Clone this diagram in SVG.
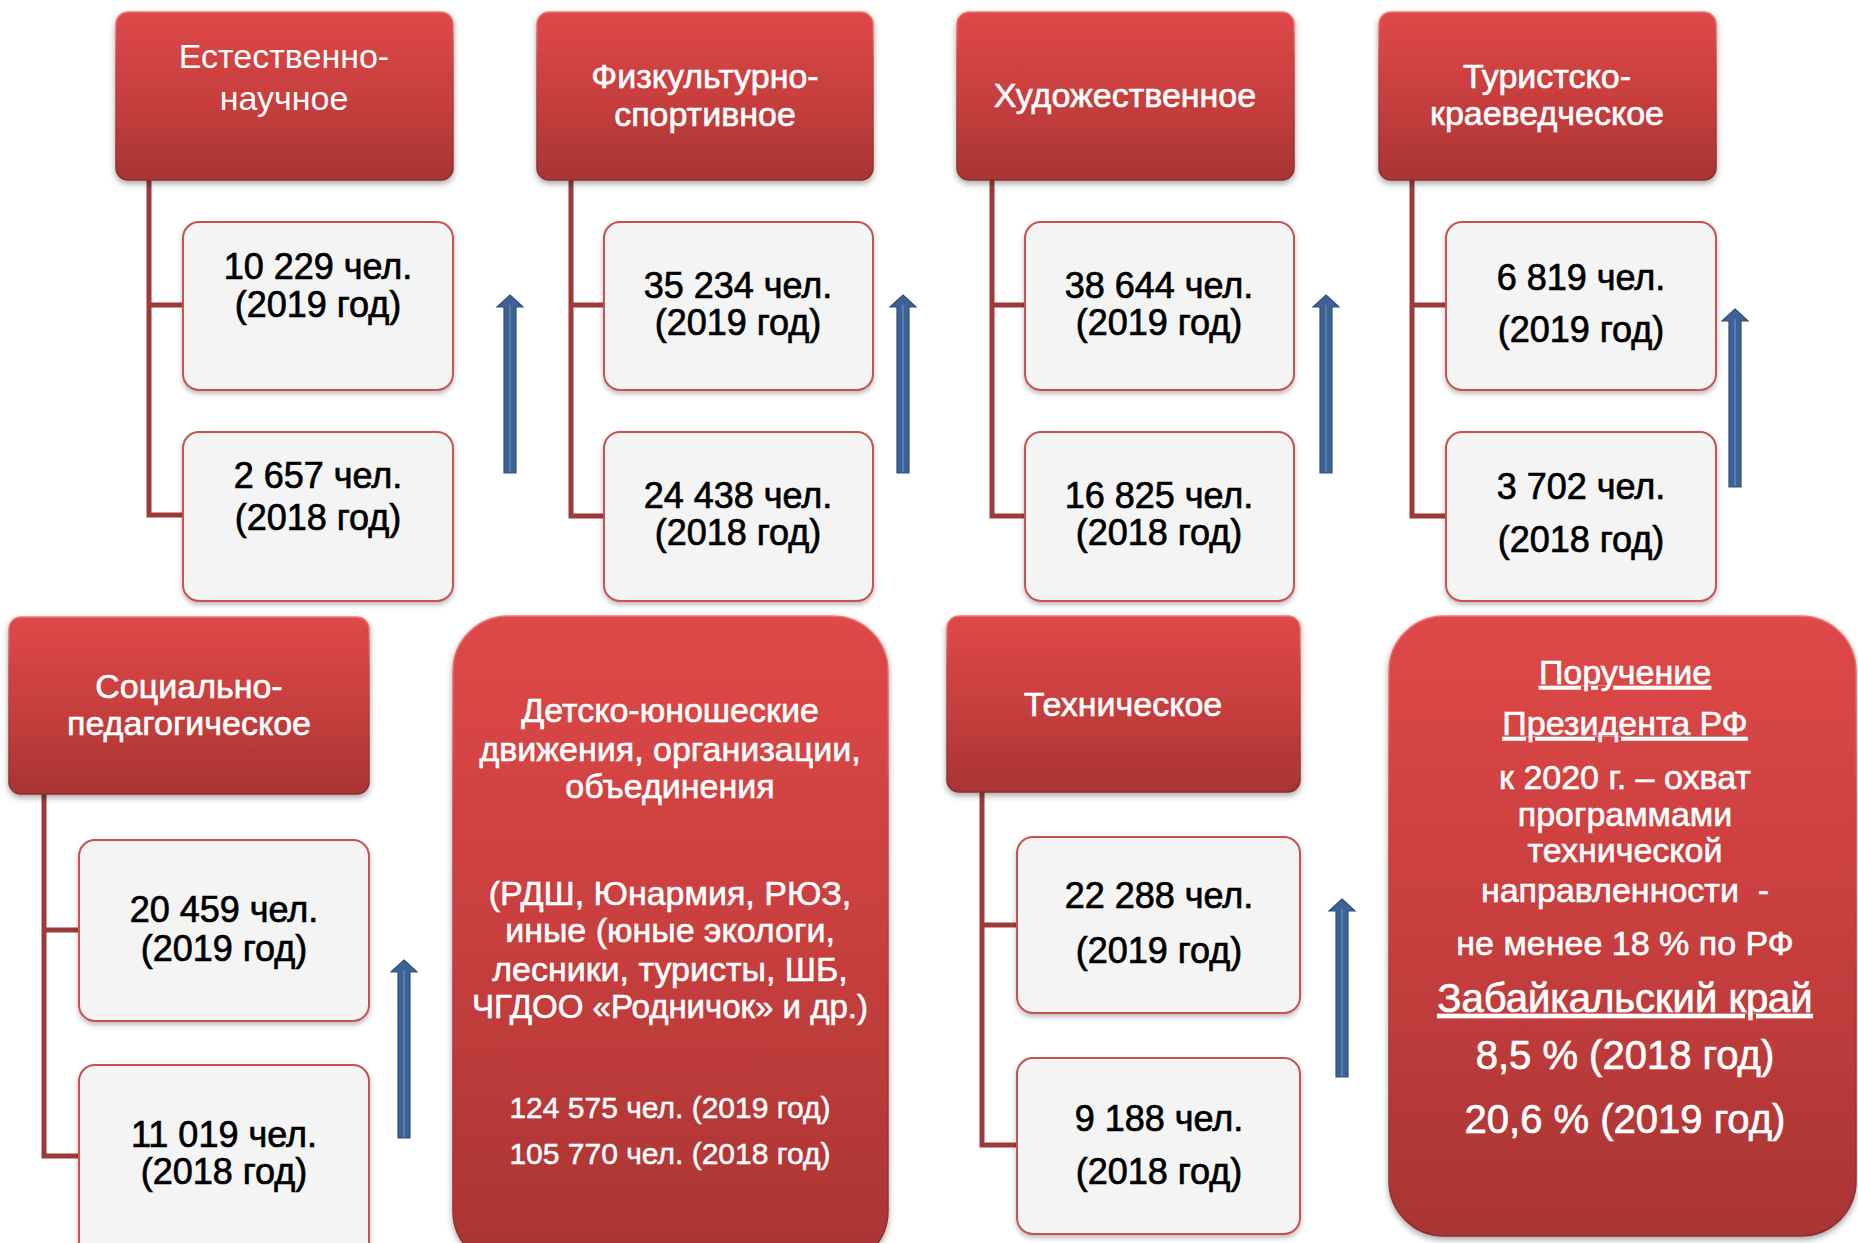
<svg xmlns="http://www.w3.org/2000/svg" width="1858" height="1243" viewBox="0 0 1858 1243">
<defs>
<linearGradient id="redG" x1="0" y1="0" x2="0" y2="1">
<stop offset="0" stop-color="#de4848"/>
<stop offset="0.5" stop-color="#c83f3e"/>
<stop offset="1" stop-color="#a93434"/>
</linearGradient>
<linearGradient id="redS" x1="0" y1="0" x2="0" y2="1">
<stop offset="0" stop-color="#f07a78"/>
<stop offset="0.3" stop-color="#c94544"/>
<stop offset="1" stop-color="#8e2b2b"/>
</linearGradient>
<filter id="sh" x="-10%" y="-10%" width="120%" height="125%">
<feDropShadow dx="0" dy="3" stdDeviation="3" flood-color="#000" flood-opacity="0.35"/>
</filter>
<filter id="sh2" x="-10%" y="-10%" width="120%" height="125%">
<feDropShadow dx="0" dy="3" stdDeviation="2.5" flood-color="#000" flood-opacity="0.25"/>
</filter>
<g id="arrow">
<polygon points="0,0 13,12 6,12 6,178 -6,178 -6,12 -13,12" fill="#3d6394" stroke="#2d4f7e" stroke-width="1.2"/>
<line x1="0" y1="10" x2="0" y2="177" stroke="#6f90bd" stroke-width="1.2"/>
</g>
</defs>
<style>
.hdr{fill:url(#redG);stroke:url(#redS);stroke-width:1.5;filter:url(#sh)}
.big{fill:url(#redG);stroke:url(#redS);stroke-width:1.5;filter:url(#sh)}
.sub{fill:#f4f4f4;stroke:#c65250;stroke-width:2;filter:url(#sh2)}
.conn{fill:none;stroke:#9e3a3a;stroke-width:5;stroke-linejoin:miter}
text{font-family:"Liberation Sans",Arial,sans-serif;text-anchor:middle}
.tw{fill:#ffffff;font-size:34px;stroke:#ffffff;stroke-width:0.6}
.tw0{fill:#ffffff;font-size:34px}
.tb{fill:#000000;font-size:36px;stroke:#000000;stroke-width:0.7}
.ts{fill:#ffffff;font-size:30px;stroke:#ffffff;stroke-width:0.5}
.tl{fill:#ffffff;font-size:40px;stroke:#ffffff;stroke-width:0.7}
.u{text-decoration:underline}
</style>

<g id="connectors">
<path class="conn" d="M149,180 V515 H183 M149,305 H183"/>
<path class="conn" d="M571,180 V516 H604 M571,305 H604"/>
<path class="conn" d="M992,180 V516 H1025 M992,305 H1025"/>
<path class="conn" d="M1412,180 V516 H1446 M1412,305 H1446"/>
<path class="conn" d="M44,794 V1156 H79 M44,930 H79"/>
<path class="conn" d="M982,792 V1145 H1017 M982,925 H1017"/>
<use href="#arrow" x="510" y="295"/>
<use href="#arrow" x="903" y="295"/>
<use href="#arrow" x="1326" y="295"/>
<use href="#arrow" x="1735" y="309"/>
<use href="#arrow" x="404" y="960"/>
<use href="#arrow" x="1342" y="899"/>
</g>

<g id="h1">
<rect class="hdr" x="116" y="12" width="337" height="168" rx="12"/>
<text class="tw0" x="284" y="68">Естественно-</text>
<text class="tw0" x="284" y="110">научное</text>
</g>
<g id="h1a">
<rect class="sub" x="183" y="222" width="270" height="168" rx="16"/>
<text class="tb" x="318" y="279">10 229 чел.</text>
<text class="tb" x="318" y="317">(2019 год)</text>
</g>
<g id="h1b">
<rect class="sub" x="183" y="432" width="270" height="169" rx="16"/>
<text class="tb" x="318" y="488">2 657 чел.</text>
<text class="tb" x="318" y="530">(2018 год)</text>
</g>

<g id="h2">
<rect class="hdr" x="537" y="12" width="336" height="168" rx="12"/>
<text class="tw" x="705" y="88">Физкультурно-</text>
<text class="tw" x="705" y="126">спортивное</text>
</g>
<g id="h2a">
<rect class="sub" x="604" y="222" width="269" height="168" rx="16"/>
<text class="tb" x="738" y="298">35 234 чел.</text>
<text class="tb" x="738" y="335">(2019 год)</text>
</g>
<g id="h2b">
<rect class="sub" x="604" y="432" width="269" height="169" rx="16"/>
<text class="tb" x="738" y="508">24 438 чел.</text>
<text class="tb" x="738" y="545">(2018 год)</text>
</g>

<g id="h3">
<rect class="hdr" x="957" y="12" width="337" height="168" rx="12"/>
<text class="tw" x="1125" y="107">Художественное</text>
</g>
<g id="h3a">
<rect class="sub" x="1025" y="222" width="269" height="168" rx="16"/>
<text class="tb" x="1159" y="298">38 644 чел.</text>
<text class="tb" x="1159" y="335">(2019 год)</text>
</g>
<g id="h3b">
<rect class="sub" x="1025" y="432" width="269" height="169" rx="16"/>
<text class="tb" x="1159" y="508">16 825 чел.</text>
<text class="tb" x="1159" y="545">(2018 год)</text>
</g>

<g id="h4">
<rect class="hdr" x="1379" y="12" width="337" height="168" rx="12"/>
<text class="tw" x="1547" y="88">Туристско-</text>
<text class="tw" x="1547" y="125">краеведческое</text>
</g>
<g id="h4a">
<rect class="sub" x="1446" y="222" width="270" height="168" rx="16"/>
<text class="tb" x="1581" y="290">6 819 чел.</text>
<text class="tb" x="1581" y="342">(2019 год)</text>
</g>
<g id="h4b">
<rect class="sub" x="1446" y="432" width="270" height="169" rx="16"/>
<text class="tb" x="1581" y="499">3 702 чел.</text>
<text class="tb" x="1581" y="552">(2018 год)</text>
</g>

<g id="h5">
<rect class="hdr" x="9" y="617" width="360" height="177" rx="12"/>
<text class="tw" x="189" y="698">Социально-</text>
<text class="tw" x="189" y="735">педагогическое</text>
</g>
<g id="h5a">
<rect class="sub" x="79" y="840" width="290" height="181" rx="16"/>
<text class="tb" x="224" y="922">20 459 чел.</text>
<text class="tb" x="224" y="961">(2019 год)</text>
</g>
<g id="h5b">
<rect class="sub" x="79" y="1065" width="290" height="200" rx="16"/>
<text class="tb" x="224" y="1147">11 019 чел.</text>
<text class="tb" x="224" y="1184">(2018 год)</text>
</g>

<g id="h6">
<rect class="big" x="453" y="616" width="435" height="650" rx="55"/>
<text class="tw" x="670" y="722">Детско-юношеские</text>
<text class="tw" x="670" y="761">движения, организации,</text>
<text class="tw" x="670" y="798">объединения</text>
<text class="tw" x="670" y="905">(РДШ, Юнармия, РЮЗ,</text>
<text class="tw" x="670" y="942">иные (юные экологи,</text>
<text class="tw" x="670" y="981">лесники, туристы, ШБ,</text>
<text class="tw" x="670" y="1018" style="font-size:33px">ЧГДОО «Родничок» и др.)</text>
<text class="ts" x="670" y="1118">124 575 чел. (2019 год)</text>
<text class="ts" x="670" y="1164">105 770 чел. (2018 год)</text>
</g>

<g id="h7">
<rect class="hdr" x="947" y="616" width="353" height="176" rx="12"/>
<text class="tw" x="1123" y="716">Техническое</text>
</g>
<g id="h7a">
<rect class="sub" x="1017" y="837" width="283" height="176" rx="16"/>
<text class="tb" x="1159" y="908">22 288 чел.</text>
<text class="tb" x="1159" y="963">(2019 год)</text>
</g>
<g id="h7b">
<rect class="sub" x="1017" y="1058" width="283" height="176" rx="16"/>
<text class="tb" x="1159" y="1131">9 188 чел.</text>
<text class="tb" x="1159" y="1184">(2018 год)</text>
</g>

<g id="h8">
<rect class="big" x="1389" y="616" width="467" height="620" rx="55"/>
<text class="tw u" x="1625" y="684">Поручение</text>
<text class="tw u" x="1625" y="735">Президента РФ</text>
<text class="tw" x="1625" y="789">к 2020 г. – охват</text>
<text class="tw" x="1625" y="826">программами</text>
<text class="tw" x="1625" y="862">технической</text>
<text class="tw" x="1625" y="902" xml:space="preserve">направленности  -</text>
<text class="tw" x="1625" y="955">не менее 18 % по РФ</text>
<text class="tl u" x="1625" y="1012">Забайкальский край</text>
<text class="tl" x="1625" y="1069">8,5 % (2018 год)</text>
<text class="tl" x="1625" y="1133">20,6 % (2019 год)</text>
</g>
</svg>
